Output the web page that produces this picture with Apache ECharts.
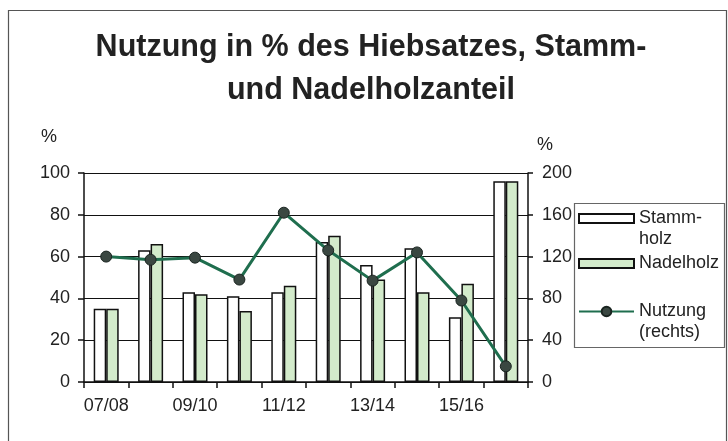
<!DOCTYPE html>
<html>
<head>
<meta charset="utf-8">
<script src="https://cdn.jsdelivr.net/npm/echarts@6/dist/echarts.min.js"></script>
<style>
  html, body { margin: 0; padding: 0; background: #ffffff; }
  #chart { width: 728px; height: 441px; }
</style>
</head>
<body>
<div id="chart"></div>
<script>
const categories = ['07/08', '08/09', '09/10', '10/11', '11/12', '12/13', '13/14', '14/15', '15/16', '16/17'];
const stammholz = [35, 63, 43, 41, 43, 67, 56, 64, 31, 96];
const nadelholz = [35, 66, 42, 34, 46, 70, 49, 43, 47, 96];
const nutzung = [120, 117, 119, 98, 162, 126, 97, 124, 78, 15];
const leftAxis = { min: 0, max: 100, interval: 20 };
const rightAxis = { min: 0, max: 200, interval: 40 };
const titleText = 'Nutzung in % des Hiebsatzes, Stamm-\nund Nadelholzanteil';

const FONT = '"Liberation Sans", Arial, sans-serif';
const chart = echarts.init(document.getElementById('chart'), null, { renderer: 'canvas' });

// a leading empty line keeps the first text line level with the legend icon
const legendNames = {
  'Stammholz': '\nStamm-\nholz',
  'Nadelholz': 'Nadelholz',
  'Nutzung (rechts)': '\nNutzung\n(rechts)'
};

function legendBlock(name, top, icon) {
  const block = {
    data: [name],
    left: 578,
    top: top,
    orient: 'vertical',
    padding: 0,
    itemWidth: 55,
    itemHeight: name === 'Nutzung (rechts)' ? 12 : 9,
    selectedMode: false,
    formatter: n => legendNames[n],
    textStyle: { fontFamily: FONT, fontSize: 18, color: '#222', lineHeight: 21 }
  };
  if (icon) block.icon = icon;
  return block;
}

const option = {
  backgroundColor: '#ffffff',
  animation: false,
  title: {
    text: titleText,
    left: 371,
    top: 26,
    padding: 0,
    textAlign: 'center',
    textStyle: { fontFamily: FONT, fontSize: 30.5, fontWeight: 'bold', color: '#222', lineHeight: 43 }
  },
  legend: [
    legendBlock('Stammholz', 187, 'rect'),
    legendBlock('Nadelholz', 253, 'rect'),
    legendBlock('Nutzung (rechts)', 280, null)
  ],
  grid: { left: 84, right: 200, top: 173, bottom: 59, containLabel: false },
  xAxis: {
    type: 'category',
    data: categories,
    boundaryGap: true,
    axisLine: { show: true, lineStyle: { color: '#111', width: 1.5 } },
    axisTick: { show: true, interval: 0, length: 6, lineStyle: { color: '#111', width: 1.5 } },
    axisLabel: { interval: 1, margin: 15, fontFamily: FONT, fontSize: 18, color: '#222' },
    splitLine: { show: false }
  },
  yAxis: [
    {
      type: 'value', position: 'left',
      min: leftAxis.min, max: leftAxis.max, interval: leftAxis.interval,
      axisLine: { show: true, lineStyle: { color: '#111', width: 1.5 } },
      axisTick: { show: true, length: 6, lineStyle: { color: '#111', width: 1.5 } },
      axisLabel: { margin: 14, fontFamily: FONT, fontSize: 18, color: '#222' },
      splitLine: { show: true, lineStyle: { color: '#111', width: 1.2 } }
    },
    {
      type: 'value', position: 'right',
      min: rightAxis.min, max: rightAxis.max, interval: rightAxis.interval,
      axisLine: { show: true, lineStyle: { color: '#111', width: 1.5 } },
      axisTick: { show: true, length: 5, lineStyle: { color: '#111', width: 1.5 } },
      axisLabel: { margin: 14, fontFamily: FONT, fontSize: 18, color: '#222' },
      splitLine: { show: false }
    }
  ],
  series: [
    {
      name: 'Stammholz', type: 'bar', yAxisIndex: 0,
      data: stammholz, barWidth: 12.5, barGap: '0%',
      itemStyle: { color: '#ffffff', borderColor: '#111', borderWidth: 1.5 }
    },
    {
      name: 'Nadelholz', type: 'bar', yAxisIndex: 0,
      data: nadelholz, barWidth: 12.5, barGap: '0%',
      itemStyle: { color: '#d3ebcb', borderColor: '#111', borderWidth: 1.5 }
    },
    {
      name: 'Nutzung (rechts)', type: 'line', yAxisIndex: 1,
      data: nutzung,
      symbol: 'circle', symbolSize: 11,
      lineStyle: { color: '#1f6e4e', width: 3 },
      itemStyle: { color: '#3a4741', borderColor: '#1a2420', borderWidth: 1 },
      z: 5
    }
  ],
  graphic: [
    {
      type: 'rect', silent: true, z: -1,
      shape: { x: 8.5, y: 10.5, width: 718, height: 460 },
      style: { fill: null, stroke: '#555', lineWidth: 1.2 }
    },
    {
      type: 'rect', silent: true,
      shape: { x: 574.5, y: 203.5, width: 150, height: 144 },
      style: { fill: null, stroke: '#666', lineWidth: 1.2 }
    },
    {
      type: 'text', left: 41, top: 128,
      style: { text: '%', fontFamily: FONT, fontSize: 18, fill: '#222' }
    },
    {
      type: 'text', left: 537, top: 136,
      style: { text: '%', fontFamily: FONT, fontSize: 18, fill: '#222' }
    }
  ]
};

chart.setOption(option);
</script>
</body>
</html>
